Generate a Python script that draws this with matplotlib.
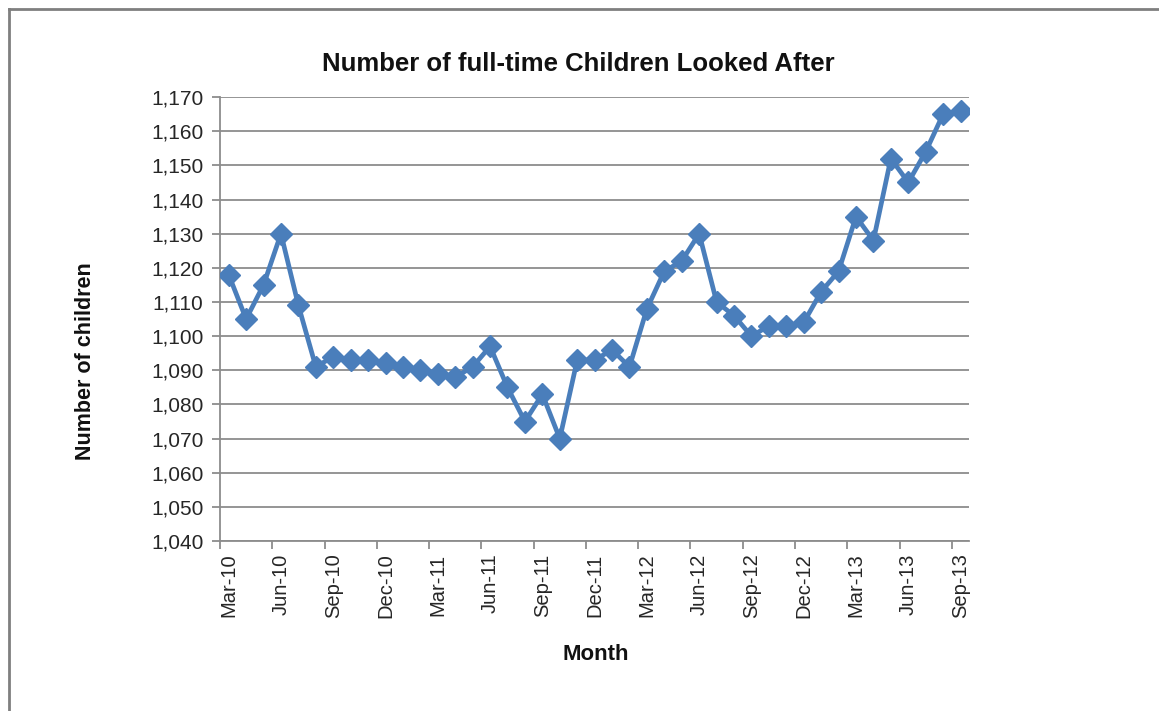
import matplotlib
matplotlib.use('Agg')
import matplotlib.pyplot as plt
from matplotlib.lines import Line2D
from matplotlib.ticker import FuncFormatter

# monthly counts, Mar-10 .. Sep-13
months = ['Mar-10', 'Apr-10', 'May-10', 'Jun-10', 'Jul-10', 'Aug-10', 'Sep-10',
          'Oct-10', 'Nov-10', 'Dec-10', 'Jan-11', 'Feb-11', 'Mar-11', 'Apr-11',
          'May-11', 'Jun-11', 'Jul-11', 'Aug-11', 'Sep-11', 'Oct-11', 'Nov-11',
          'Dec-11', 'Jan-12', 'Feb-12', 'Mar-12', 'Apr-12', 'May-12', 'Jun-12',
          'Jul-12', 'Aug-12', 'Sep-12', 'Oct-12', 'Nov-12', 'Dec-12', 'Jan-13',
          'Feb-13', 'Mar-13', 'Apr-13', 'May-13', 'Jun-13', 'Jul-13', 'Aug-13',
          'Sep-13']
children = [1118, 1105, 1115, 1130, 1109, 1091, 1094, 1093, 1093, 1092, 1091,
            1090, 1089, 1088, 1091, 1097, 1085, 1075, 1083, 1070, 1093, 1093,
            1096, 1091, 1108, 1119, 1122, 1130, 1110, 1106, 1100, 1103, 1103,
            1104, 1113, 1119, 1135, 1128, 1152, 1145, 1154, 1165, 1166]

FONT = ['Liberation Sans', 'DejaVu Sans']
BLUE = '#4a7ebb'
GRID = '#8c8c8c'
TEXT = '#262626'

x = list(range(len(months)))

fig = plt.figure(figsize=(11.59, 7.11), dpi=100)
ax = fig.add_axes([0.1898, 0.239, 0.6465, 0.6245])

ax.plot(x, children, color=BLUE, lw=3.4, marker='D', ms=11,
        markerfacecolor=BLUE, markeredgecolor=BLUE, zorder=3)

ax.set_xlim(-0.5, len(months) - 0.5)
ax.set_ylim(1040, 1170)
ax.set_yticks(range(1040, 1171, 10))
ax.yaxis.set_major_formatter(FuncFormatter(lambda v, p: '{:,.0f}'.format(v)))

# tick marks sit between months, labels centred on every third month
ax.set_xticks([i - 0.5 for i in range(0, len(months), 3)])
ax.set_xticklabels([])
ax.set_xticks(x[::3], minor=True)
ax.set_xticklabels(months[::3], minor=True, rotation=90, va='top', ha='center',
                   fontsize=14.5, family=FONT, color=TEXT)
ax.tick_params(axis='x', which='minor', length=0, pad=9)
ax.tick_params(axis='x', which='major', length=6, width=1.3, color=GRID, direction='out')
ax.tick_params(axis='y', length=6, width=1.3, color=GRID, direction='out', pad=6,
               labelsize=15, labelcolor=TEXT)
for lab in ax.get_yticklabels():
    lab.set_family(FONT)

ax.grid(axis='y', color=GRID, lw=1.3)
ax.set_axisbelow(True)
for side in ['top', 'right']:
    ax.spines[side].set_visible(False)
for side in ['left', 'bottom']:
    ax.spines[side].set_color(GRID)
    ax.spines[side].set_linewidth(1.3)

fig.text(0.499, 0.910, 'Number of full-time Children Looked After', ha='center',
         va='center', fontsize=18.5, fontweight='bold', family=FONT, color='#111111')
fig.text(0.074, 0.492, 'Number of children', rotation=90, ha='center',
         va='center', fontsize=15.5, fontweight='bold', family=FONT, color='#111111')
fig.text(0.514, 0.079, 'Month', ha='center', va='center', fontsize=16,
         fontweight='bold', family=FONT, color='#111111')

# outer chart border (top and left edges)
fig.add_artist(Line2D([0.008, 1.0], [0.987, 0.987], transform=fig.transFigure,
                      color='#7f7f7f', lw=2))
fig.add_artist(Line2D([0.008, 0.008], [0.0, 0.987], transform=fig.transFigure,
                      color='#7f7f7f', lw=2))

fig.savefig('out.png', dpi=100, facecolor='white')
